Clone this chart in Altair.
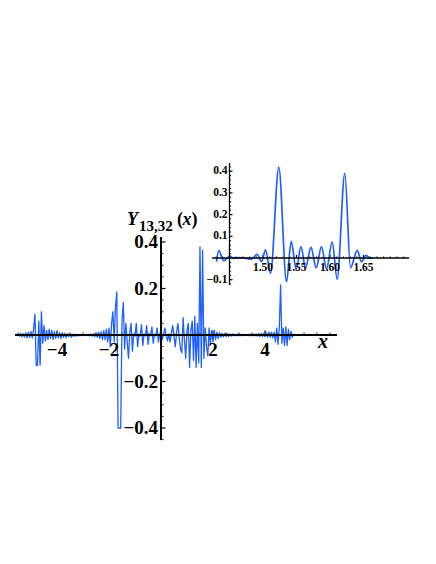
import altair as alt
import pandas as pd

# ---------------- data: main curve Y_{13,32}(x), sampled every 0.05 -------------
STEP = 0.05
seg_a = [0.004, -0.005, 0.007, -0.008, 0.006, -0.009, 0.01, -0.012, 0.012, -0.01, 0.015, -0.012]
seg_b = [0.025, 0.09, -0.13, -0.13, 0.06, -0.13, 0.1, -0.035, 0.04]
seg_c = [-0.025, 0.02, -0.02, 0.025, -0.015, 0.02, -0.02, 0.015, -0.015, 0.012,
         -0.012, 0.01, -0.015, 0.01, -0.01, 0.008, -0.012, 0.006, -0.008, 0.005,
         -0.01, 0.004, -0.006, 0.003, -0.005, 0.003, -0.004, 0.002, -0.003, 0.002]
seg_d = [-0.001, 0.001, -0.002, 0.002, -0.003, 0.004, -0.005, 0.006, -0.008, 0.01,
         -0.01, 0.012, -0.015, 0.015, -0.02]
seg_e = [0.02, -0.02, 0.025, -0.03, 0.03, -0.05, 0.05, 0.1, -0.03, 0.12,
         0.185, -0.4, -0.4, -0.4, 0.06, 0.14, -0.06, 0.05, -0.03]
seg_f = [-0.1, 0.01, 0.05, -0.07, 0.005, -0.005, 0.05, -0.05, 0.005, -0.005,
         0.045, -0.045, 0.004, -0.004, 0.04, -0.04, 0.004, -0.004, 0.035, -0.035,
         0.003, -0.003, 0.03, -0.03, 0.003, 0.02]
seg_g = [-0.02, 0.005, 0.03, -0.005, -0.025, 0.005, -0.03, 0.01, 0.04, -0.005,
         -0.05, 0.01, 0.05, -0.01, -0.06, -0.077, 0.075, -0.02, -0.1, 0.02,
         0.05, -0.14, 0.02, 0.06, -0.11, 0.08, -0.14]
seg_h = [0.05, -0.12, 0.38, -0.14, 0.365, -0.1, 0.03, -0.05]
seg_i = [-0.09, 0.03, -0.04, 0.02, -0.03, 0.02, -0.02, 0.012, -0.015, 0.01, -0.01]
seg_j = [0.008, -0.008, 0.007, -0.007, 0.006, -0.006, 0.005, -0.005, 0.005, -0.004,
         0.004, -0.004, 0.003, -0.003, 0.003, -0.003, 0.002, -0.002, 0.002, -0.002,
         0.002, -0.003, 0.003, -0.003, 0.004, -0.004, 0.005, -0.005, 0.006, -0.006,
         0.007, -0.007, 0.008, -0.008, 0.01, -0.009, 0.012, -0.01, 0.012, -0.012,
         0.012]
seg_k = [-0.03, 0.03, -0.04, 0.03, 0.215, -0.035, 0.03, -0.045, 0.035, -0.045,
         0.025, -0.02, 0.015, -0.01, 0.005]
segments = [(-5.5, seg_a), (-4.9, seg_b), (-4.45, seg_c), (-2.95, seg_d),
            (-2.2, seg_e), (-1.25, seg_f), (0.05, seg_g), (1.4, seg_h),
            (1.8, seg_i), (2.35, seg_j), (4.4, seg_k)]

# ---------------- data: inset (zoom near x = 1.5 .. 1.66) -------------------------
inset_x = [1.4306, 1.4340, 1.4415, 1.4504, 1.4560, 1.4634, 1.4724, 1.4784, 1.4828,
           1.4913, 1.4978, 1.5037, 1.5112, 1.5236, 1.5351, 1.5421, 1.5496, 1.5567,
           1.5634, 1.5716, 1.5794, 1.5873, 1.5948, 1.6033, 1.6107, 1.6221, 1.6306,
           1.6406, 1.6470, 1.6537, 1.6604, 1.6642]
inset_y = [-0.017, 0.034, -0.012, 0.009, -0.002, 0.002, 0.0, -0.004, -0.006,
           0.017, -0.017, 0.037, -0.071, 0.418, -0.109, 0.077, -0.052, 0.052,
           -0.045, 0.049, -0.045, 0.052, -0.05, 0.075, -0.098, 0.39, -0.045,
           0.035, -0.017, 0.012, -0.002, 0.0]

# ---------------- ticks ----------------------------------------------------------
main_x_major = [-4, -2, 2, 4]
main_x_labels = ["\u22124", "\u22122", "2", "4"]
main_x_minor = [-5.5, -5, -4.5, -3.5, -3, -2.5, -1.5, -1, -0.5, 0.5, 1, 1.5,
                2.5, 3, 3.5, 4.5, 5, 5.5, 6, 6.5]
main_y_major = [-0.4, -0.2, 0.2, 0.4]
main_y_labels = ["\u22120.4", "\u22120.2", "0.2", "0.4"]
main_y_minor = [-0.45, -0.35, -0.3, -0.25, -0.15, -0.1, -0.05, 0.05, 0.1, 0.15,
                0.25, 0.3, 0.35]
inset_x_major = [1.50, 1.55, 1.60, 1.65]
inset_x_labels = ["1.50", "1.55", "1.60", "1.65"]
inset_x_minor = [1.43, 1.44, 1.46, 1.47, 1.48, 1.49, 1.51, 1.52, 1.53, 1.54,
                 1.56, 1.57, 1.58, 1.59, 1.61, 1.62, 1.63, 1.64, 1.66, 1.67,
                 1.68, 1.69, 1.70, 1.71]
inset_y_major = [-0.1, 0.1, 0.2, 0.3, 0.4]
inset_y_labels = ["\u22120.1", "0.1", "0.2", "0.3", "0.4"]
inset_y_minor = [-0.12, -0.08, -0.06, -0.04, -0.02, 0.02, 0.04, 0.06, 0.08,
                 0.12, 0.14, 0.16, 0.18, 0.22, 0.24, 0.26, 0.28, 0.32, 0.34,
                 0.36, 0.38, 0.42]

# axis extents
main_x_ext = [-5.615, 6.77]
main_y_ext = [-0.452, 0.4215]
inset_x_ext = [1.424, 1.718]
inset_y_ext = [-0.124, 0.437]
inset_cross_x = 1.45

# ---------------- build ----------------------------------------------------------
xs, ys = [], []
for x0, vals in segments:
    for k, v in enumerate(vals):
        xs.append(round(x0 + STEP * k, 4))
        ys.append(v)
main_df = pd.DataFrame({"x": xs, "y": ys})
inset_df = pd.DataFrame({"x": inset_x, "y": inset_y})

BLUE = "#1f5eff"
SERIF = "Liberation Serif"
W, H = 420, 548

# scale domains chosen so that each panel lands where it is in the figure
sx = alt.Scale(domain=[-153 / 26, 267 / 26], nice=False, zero=False)
sy = alt.Scale(domain=[(327 - 548) / 232.5, 327 / 232.5], nice=False, zero=False)
ix = alt.Scale(domain=[1.45 - 221.5 / 670, 1.45 + 198.5 / 670], nice=False, zero=False)
iy = alt.Scale(domain=[-298 / 217, 250 / 217], nice=False, zero=False)


def panel(line_df, line_w, interp, scx, scy, x_ext, y_ext, cross_x,
          xmaj, xlab, xmin, ymaj, ylab, ymin, axis_w, maj_len, min_len,
          fs, xlab_dy, ylab_dx):
    X = lambda f: alt.X(f, scale=scx, axis=None)
    Y = lambda f: alt.Y(f, scale=scy, axis=None)
    kw = dict(color=BLUE, strokeWidth=line_w, strokeJoin="round")
    if interp:
        kw["interpolate"] = interp
    line = alt.Chart(line_df).mark_line(**kw).encode(x=X("x:Q"), y=Y("y:Q"))
    xaxis = alt.Chart(pd.DataFrame({"a": [x_ext[0]], "b": [x_ext[1]], "z": [0.0]})).mark_rule(
        color="black", strokeWidth=axis_w).encode(x=X("a:Q"), x2="b:Q", y=Y("z:Q"))
    yaxis = alt.Chart(pd.DataFrame({"a": [y_ext[0]], "b": [y_ext[1]], "z": [cross_x]})).mark_rule(
        color="black", strokeWidth=axis_w).encode(y=Y("a:Q"), y2="b:Q", x=X("z:Q"))
    xt_maj = alt.Chart(pd.DataFrame({"v": xmaj, "z": 0.0})).mark_rule(
        color="black", strokeWidth=1.2, y2Offset=-maj_len).encode(x=X("v:Q"), y=Y("z:Q"), y2="z:Q")
    xt_min = alt.Chart(pd.DataFrame({"v": xmin, "z": 0.0})).mark_rule(
        color="black", strokeWidth=0.9, y2Offset=-min_len).encode(x=X("v:Q"), y=Y("z:Q"), y2="z:Q")
    yt_maj = alt.Chart(pd.DataFrame({"v": ymaj, "z": cross_x})).mark_rule(
        color="black", strokeWidth=1.2, x2Offset=maj_len).encode(y=Y("v:Q"), x=X("z:Q"), x2="z:Q")
    yt_min = alt.Chart(pd.DataFrame({"v": ymin, "z": cross_x})).mark_rule(
        color="black", strokeWidth=0.9, x2Offset=min_len).encode(y=Y("v:Q"), x=X("z:Q"), x2="z:Q")
    xl = alt.Chart(pd.DataFrame({"v": xmaj, "t": xlab, "z": 0.0})).mark_text(
        font=SERIF, fontSize=fs, fontWeight="bold", align="center", baseline="alphabetic",
        dy=xlab_dy, color="black").encode(x=X("v:Q"), y=Y("z:Q"), text="t:N")
    yl = alt.Chart(pd.DataFrame({"v": ymaj, "t": ylab, "z": cross_x})).mark_text(
        font=SERIF, fontSize=fs, fontWeight="bold", align="right", baseline="middle",
        dx=ylab_dx, color="black").encode(y=Y("v:Q"), x=X("z:Q"), text="t:N")
    return alt.layer(xt_min, xt_maj, yt_min, yt_maj, line, xaxis, yaxis, xl, yl)


main = panel(main_df, 1.3, None, sx, sy, main_x_ext, main_y_ext, 0.0,
             main_x_major, main_x_labels, main_x_minor,
             main_y_major, main_y_labels, main_y_minor,
             2.0, 4.5, 2.5, 19, 21, -3)
inset = panel(inset_df, 1.7, "monotone", ix, iy, inset_x_ext, inset_y_ext, inset_cross_x,
              inset_x_major, inset_x_labels, inset_x_minor,
              inset_y_major, inset_y_labels, inset_y_minor,
              1.3, 3, 1.6, 11.5, 13, -2)


def txt(s, x, y, size, italic):
    kw = dict(font=SERIF, fontSize=size, fontWeight="bold", align="left",
              baseline="alphabetic", color="black")
    if italic:
        kw["fontStyle"] = "italic"
    return alt.Chart(pd.DataFrame({"t": [s]})).mark_text(**kw).encode(
        x=alt.value(x), y=alt.value(y), text="t:N")


titles = alt.layer(
    txt("Y", 119, 216.7, 18, True),
    txt("13,32", 131, 222.5, 15, False),
    txt("(", 169, 216.7, 18, False),
    txt("x", 174.5, 216.7, 18, True),
    txt(")", 183.5, 216.7, 18, False),
    txt("x", 310, 340, 20, True),
)

chart = alt.layer(main, inset, titles).resolve_scale(
    x="independent", y="independent"
).properties(
    width=W, height=H, padding=0, autosize=alt.AutoSizeParams(type="none")
).configure_view(strokeWidth=0)

chart.save("out.html", embed_options={"renderer": "svg", "actions": False})
